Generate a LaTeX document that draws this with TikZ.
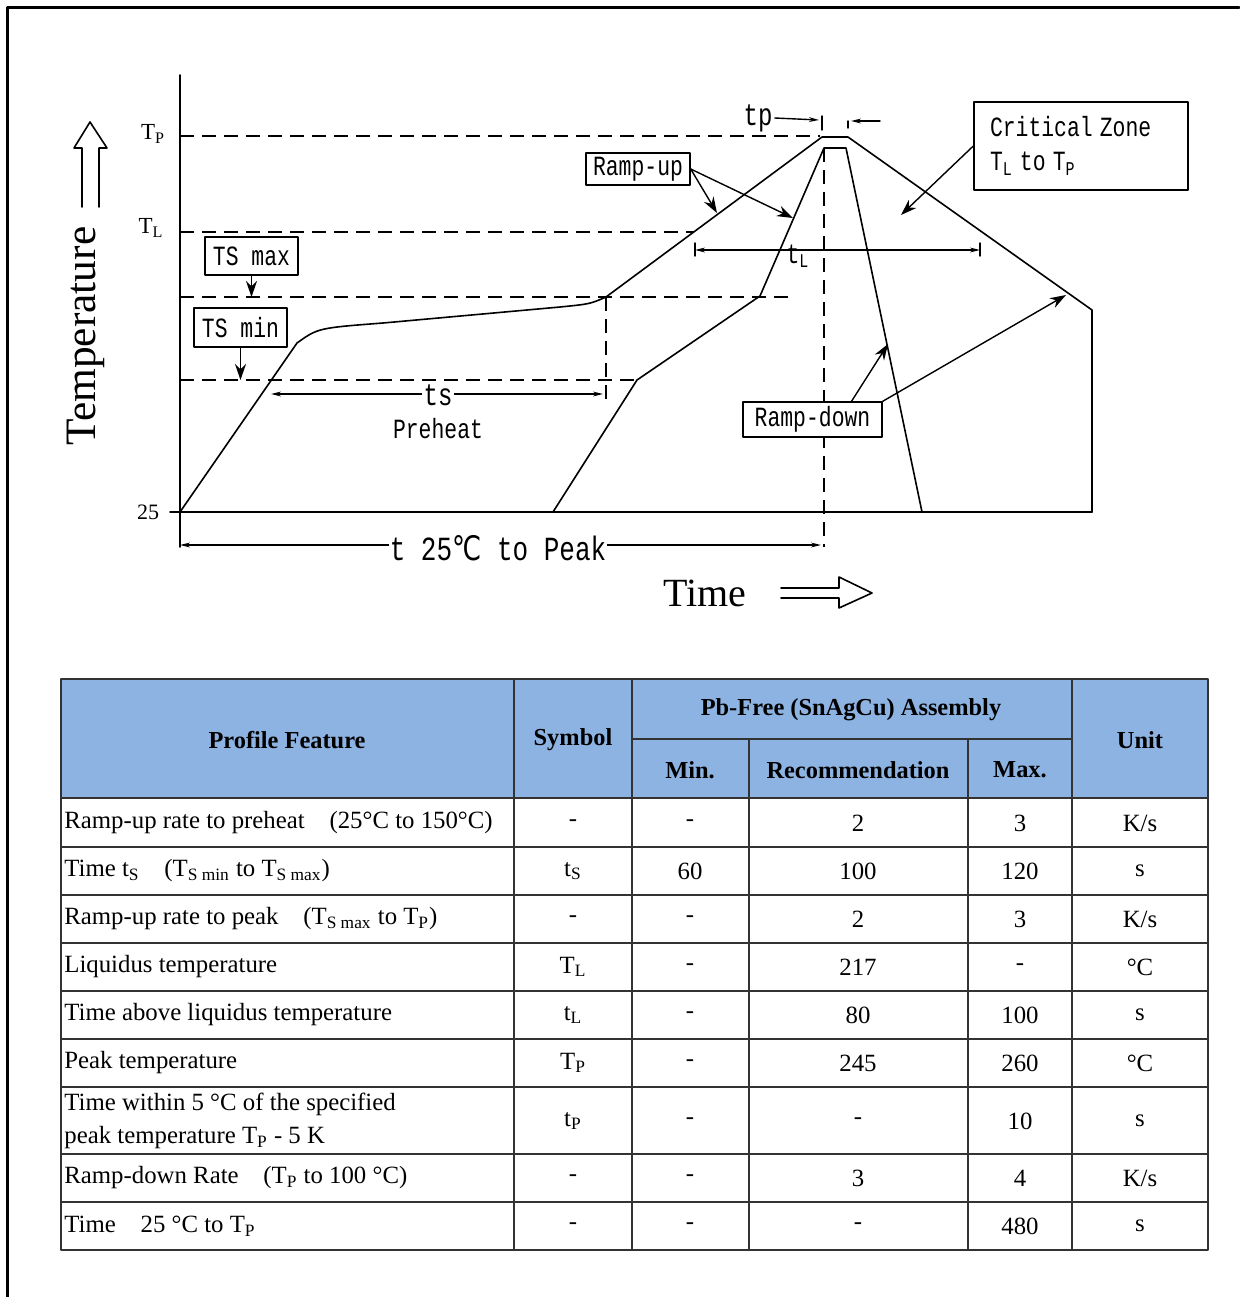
\documentclass[tikz,border=0pt]{standalone}
\usepackage{fontspec}
\usepackage{graphicx}
\setmainfont{Liberation Serif}
\newfontfamily\chartfont{Liberation Mono}
\newfontfamily\celsiusfont{DejaVu Sans}
\usetikzlibrary{positioning,arrows.meta}
\definecolor{headblue}{HTML}{8DB3E2}
\newcommand{\tallmono}[1]{\scalebox{1}[1.3]{\chartfont #1}}
\tikzset{
  curve/.style={line width=0.8pt},
  guide/.style={line width=0.7pt, line cap=butt, dash pattern=on 7pt off 4pt},
  lblbox/.style={draw, fill=white, line width=0.7pt, inner sep=0pt, font=\fontsize{10.7}{17}\selectfont},
  chartlbl/.style={inner sep=1pt, font=\fontsize{10.7}{13}\selectfont},
  dimline/.style={line width=0.7pt, {Stealth[length=5pt,width=2.4pt]}-{Stealth[length=5pt,width=2.4pt]}},
  pointer/.style={line width=0.7pt, -{Stealth[length=8pt,width=5.5pt]}},
  gridline/.style={line width=1pt, black!80},
  cell/.style={inner sep=0pt, font=\fontsize{12.4}{16.5}\selectfont},
  headcell/.style={inner sep=0pt, font=\bfseries\fontsize{12.2}{16.5}\selectfont}
}
\begin{document}
\begin{tikzpicture}[x=0.5pt, y=-0.5pt, line join=round, line cap=round, >=stealth]
	\useasboundingbox (0,0) rectangle (1239,1297);
	\draw[line width=1.5pt] (7,1297) -- (7,7) -- (1239,7);

	% reflow profile
	\begin{scope}
		\draw[curve] (180,75) -- (180,547);
		\draw[curve] (170,512) -- (1092,512);
		\draw[guide] (180,136) -- (820,136);
		\draw[guide] (180,232) -- (694,232);
		\draw[guide] (180,297) -- (795,297);
		\draw[guide] (180,380) -- (637,380);
		\draw[guide] (606,297) -- (606,402);
		\draw[guide] (824,148) -- (824,547);
		\draw[curve] (180,512) -- (297,343) .. controls (318,328) .. (383,323) -- (560,307) .. controls (590,304) .. (606,297) -- (822,137) -- (848,137) -- (1092,310) -- (1092,512);
		\draw[curve] (553,512) -- (637,380) -- (760,296) -- (824,148) -- (846,148) -- (922,512);

		\node[font=\fontsize{11.5}{13}\selectfont] (tp-axis) at (153,134) {T\textsubscript{P}};
		\node[font=\fontsize{11.5}{13}\selectfont] (tl-axis) at (151,228) {T\textsubscript{L}};
		\node[font=\fontsize{11}{13}\selectfont] (base-axis) at (148,512) {25};

		\node[font=\fontsize{21.7}{24}\selectfont, rotate=90] (temp-lbl) at (86,336) {Temperature};
		\draw[curve] (82,207) -- (82,148) -- (74,148) -- (90,122) -- (107,148) -- (99,148) -- (99,207);
		\node[font=\fontsize{20}{24}\selectfont] (time-lbl) at (705,593) {Time};
		\draw[curve] (781,588) -- (839,588) -- (839,577) -- (872,593) -- (839,608) -- (839,598) -- (781,598);

		\node[lblbox, minimum width=46.5pt, minimum height=19pt] (tsmax) at (251.5,256) {\tallmono{TS max}};
		\node[lblbox, minimum width=46.5pt, minimum height=19.5pt] (tsmin) at (240.5,327.5) {\tallmono{TS min}};
		\node[lblbox, minimum width=52pt, minimum height=16pt] (rampup) at (638,169) {\tallmono{Ramp-up}};
		\node[lblbox, minimum width=69.5pt, minimum height=17.5pt] (rampdown) at (812.5,419.5) {\tallmono{Ramp-down}};
		\node[lblbox, minimum width=107pt, minimum height=44pt, text width=91pt, align=left] (critical) at (1081,146) {\tallmono{Critical Zone}\\\tallmono{T\textsubscript{L} to T\textsubscript{P}}};

		\coordinate (tsmax-lvl) at (251.5,297);
		\coordinate (tsmin-lvl) at (240.5,380);
		\coordinate (rampup-a) at (717,213);
		\coordinate (rampup-b) at (793,218);
		\coordinate (critical-in) at (901,215);
		\coordinate (rampdown-a) at (888,344);
		\coordinate (rampdown-b) at (1066,295);
		\draw[pointer] (tsmax) -- (tsmax-lvl);
		\draw[pointer] (tsmin) -- (tsmin-lvl);
		\draw[pointer] (rampup.east) -- (rampup-a);
		\draw[pointer] (rampup.east) -- (rampup-b);
		\draw[pointer] (critical.west) -- (critical-in);
		\draw[pointer] (rampdown.25) -- (rampdown-a);
		\draw[pointer] (rampdown.north east) -- (rampdown-b);

		% time spans
		\node[chartlbl, font=\fontsize{12}{13}\selectfont] (tp-txt) at (758,118) {\tallmono{tp}};
		\coordinate (tp-left) at (819,120);
		\draw[line width=0.7pt, -{Stealth[length=5pt,width=2.4pt]}] (tp-txt.east) -- (tp-left);
		\draw[line width=0.7pt] (822,116) -- (822,130);
		\draw[line width=0.7pt] (848,128) -- (848,121);
		\coordinate (tp-right) at (880,121);
		\coordinate (tp-end) at (851,121);
		\draw[line width=0.7pt, -{Stealth[length=5pt,width=2.4pt]}] (tp-right) -- (tp-end);

		\coordinate (tl-start) at (695,250);
		\coordinate (tl-end) at (980,250);
		\draw[dimline] (tl-start) -- (tl-end);
		\draw[line width=0.7pt] (695,243) -- (695,256);
		\draw[line width=0.7pt] (980,243) -- (980,256);
		\node[chartlbl] (tl-txt) at (798,256) {\tallmono{t\textsubscript{L}}};

		\coordinate (ts-start) at (271,394);
		\coordinate (ts-end) at (603,394);
		\draw[dimline] (ts-start) -- (ts-end);
		\node[chartlbl, fill=white, font=\fontsize{12}{13}\selectfont] (ts-txt) at (438,395) {\tallmono{ts}};
		\node[chartlbl, below=4pt of ts-txt] (preheat) {\tallmono{Preheat}};

		\coordinate (peak-start) at (180,545);
		\coordinate (peak-end) at (821,545);
		\draw[dimline] (peak-start) -- (peak-end);
		\node[chartlbl, fill=white, inner sep=0.5pt, font=\fontsize{13}{15}\selectfont] (peak-txt) at (498,548) {\tallmono{t 25{\celsiusfont ℃} to Peak}};
	\end{scope}

	% profile table
	\begin{scope}
		\fill[headblue] (61,679) rectangle (1208,798);
		\foreach \y in {798,847,895,943,991,1039,1087,1154,1202}
			\draw[gridline] (61,\y) -- (1208,\y);
		\draw[gridline] (632,739) -- (1072,739);
		\foreach \x in {514,632,1072}
			\draw[gridline] (\x,679) -- (\x,1250);
		\foreach \x in {749,968}
			\draw[gridline] (\x,739) -- (\x,1250);
		\draw[gridline] (61,679) rectangle (1208,1250);

		\node[headcell] (head-feature) at (287,740) {Profile Feature};
		\node[headcell] (head-symbol) at (573,740) {Symbol};
		\node[headcell] (head-assembly) at (851,710) {Pb-Free (SnAgCu) Assembly};
		\node[headcell] (head-min) at (690,770) {Min.};
		\node[headcell] (head-rec) at (858,770) {Recommendation};
		\node[headcell] (head-max) at (1020,770) {Max.};
		\node[headcell] (head-unit) at (1140,740) {Unit};

		\foreach \y/\feat/\sym/\mn/\rc/\mx/\un [count=\i] in {
			823/{Ramp-up rate to preheat\quad (25°C to 150°C)}/-/-/2/3/{K/s},
			871/{Time t\textsubscript{S}\quad (T\textsubscript{S min} to T\textsubscript{S max})}/{t\textsubscript{S}}/60/100/120/s,
			919/{Ramp-up rate to peak\quad (T\textsubscript{S max} to T\textsubscript{P})}/-/-/2/3/{K/s},
			967/{Liquidus temperature}/{T\textsubscript{L}}/-/217/-/°C,
			1015/{Time above liquidus temperature}/{t\textsubscript{L}}/-/80/100/s,
			1063/{Peak temperature}/{T\textsubscript{P}}/-/245/260/°C,
			1121/{Time within 5 °C of the specified\\peak temperature T\textsubscript{P} - 5 K}/{t\textsubscript{P}}/-/-/10/s,
			1178/{Ramp-down Rate\quad (T\textsubscript{P} to 100 °C)}/-/-/3/4/{K/s},
			1226/{Time\quad 25 °C to T\textsubscript{P}}/-/-/-/480/s}
		{
			\node[cell, anchor=west, align=left] (feat-\i) at (64,\y) {\feat};
			\node[cell] (sym-\i) at (573,\y) {\sym};
			\node[cell] (min-\i) at (690,\y) {\mn};
			\node[cell] (rec-\i) at (858,\y) {\rc};
			\node[cell] (max-\i) at (1020,\y) {\mx};
			\node[cell] (unit-\i) at (1140,\y) {\un};
		}
	\end{scope}
\end{tikzpicture}
\end{document}
